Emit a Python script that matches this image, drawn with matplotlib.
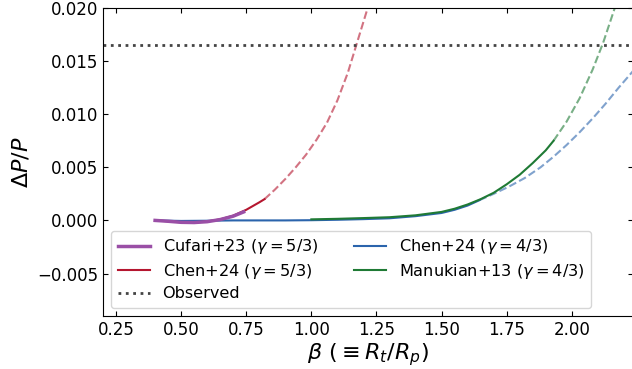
import matplotlib
matplotlib.use("Agg")
import matplotlib.pyplot as plt

# Cufari+23 (gamma = 5/3)
cufari_beta = [0.40, 0.45, 0.50, 0.55, 0.60, 0.65, 0.70, 0.74]
cufari_dp = [0.0, -0.00008, -0.00018, -0.0002, -0.00012, 0.00008, 0.0004, 0.0008]

# Chen+24 (gamma = 5/3): solid part and dashed extrapolation
chen53_beta = [0.40, 0.45, 0.50, 0.55, 0.60, 0.65, 0.70, 0.75, 0.80, 0.82]
chen53_dp = [0.0, -0.00008, -0.00017, -0.0002, -0.0001, 0.0001, 0.00045, 0.001, 0.0017, 0.002]
chen53_ext_beta = [0.82, 0.86, 0.90, 0.94, 0.98, 1.02, 1.06, 1.10, 1.14, 1.18, 1.22, 1.26]
chen53_ext_dp = [0.002, 0.0029, 0.0039, 0.005, 0.0062, 0.0076, 0.0092, 0.0113, 0.0139, 0.0171,
                 0.0203, 0.0238]

# Chen+24 (gamma = 4/3)
chen43_beta = [0.40, 0.50, 0.60, 0.70, 0.80, 0.90, 1.00, 1.10, 1.20, 1.30, 1.40, 1.50, 1.55, 1.60, 1.645]
chen43_dp = [0.0, -0.00005, -0.00003, 0.0, 0.0, 0.0, 0.00002, 0.00006, 0.00012, 0.0002, 0.0004,
             0.0007, 0.001, 0.0014, 0.0019]
chen43_ext_beta = [1.645, 1.70, 1.76, 1.82, 1.88, 1.93, 1.98, 2.03, 2.08, 2.13, 2.18, 2.24]
chen43_ext_dp = [0.0019, 0.0025, 0.0032, 0.004, 0.005, 0.006, 0.0071, 0.0083, 0.0096, 0.011,
                 0.0125, 0.0142]

# Manukian+13 (gamma = 4/3)
manukian_beta = [1.0, 1.1, 1.2, 1.3, 1.4, 1.5, 1.55, 1.6, 1.65, 1.7, 1.75, 1.8, 1.85, 1.9, 1.93]
manukian_dp = [0.0001, 0.00015, 0.00022, 0.0003, 0.00048, 0.0008, 0.0011, 0.0015, 0.002,
               0.0026, 0.0034, 0.0043, 0.0054, 0.0066, 0.0075]
manukian_ext_beta = [1.93, 1.98, 2.03, 2.08, 2.12, 2.165, 2.19]
manukian_ext_dp = [0.0075, 0.0093, 0.0115, 0.0142, 0.0167, 0.0200, 0.0220]

observed = 0.0165

purple = '#9a4fa6'
red = '#b5162f'
blue = '#2b64ac'
green = '#1f7a35'

fig = plt.figure(figsize=(6.32, 3.69), dpi=100)
ax = fig.add_axes([103 / 632, 53 / 369, 530 / 632, 308 / 369])

ax.plot(cufari_beta, cufari_dp, color=purple, lw=2.5, label=r'Cufari+23 ($\gamma = 5/3$)', zorder=4)
ax.plot(chen53_beta, chen53_dp, color=red, lw=1.5, label=r'Chen+24 ($\gamma = 5/3$)', zorder=3)
ax.plot(chen53_ext_beta, chen53_ext_dp, color=red, lw=1.5, ls='--', alpha=0.6)
ax.axhline(observed, color='#444444', lw=2, ls=':', label='Observed')
ax.plot(chen43_beta, chen43_dp, color=blue, lw=1.5, label=r'Chen+24 ($\gamma = 4/3$)', zorder=2)
ax.plot(chen43_ext_beta, chen43_ext_dp, color=blue, lw=1.5, ls='--', alpha=0.6)
ax.plot(manukian_beta, manukian_dp, color=green, lw=1.5, label=r'Manukian+13 ($\gamma = 4/3$)', zorder=3)
ax.plot(manukian_ext_beta, manukian_ext_dp, color=green, lw=1.5, ls='--', alpha=0.6)

ax.set_xlim(0.2, 2.235)
ax.set_ylim(-0.009, 0.020)
ax.set_xticks([0.25, 0.5, 0.75, 1.0, 1.25, 1.5, 1.75, 2.0])
ax.set_yticks([-0.005, 0.0, 0.005, 0.010, 0.015, 0.020])
ax.tick_params(direction='in', top=True, right=True, labelsize=12)
ax.set_xlabel(r'$\beta\ (\equiv R_t/R_p)$', fontsize=16, labelpad=2)
ax.set_ylabel(r'$\Delta P/P$', fontsize=16)

ax.legend(loc='lower left', ncol=2, fontsize=11.6, columnspacing=2.2, labelspacing=0.35)

fig.savefig('out.png', dpi=100)
